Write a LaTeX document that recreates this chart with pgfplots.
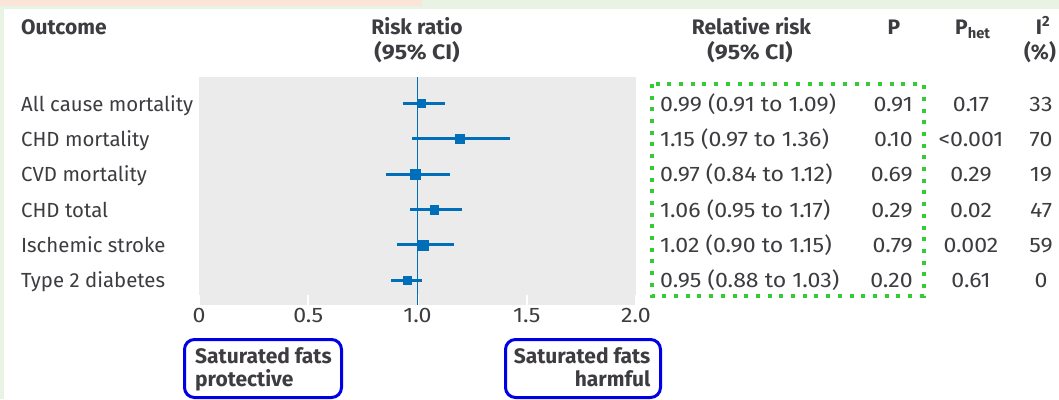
\documentclass[border=0pt]{standalone}
\usepackage{fontspec}
\setmainfont{Fira Sans}
\newfontfamily\numfont[FakeStretch=1.1]{Fira Sans}
\usepackage{pgfplots}
\pgfplotsset{compat=1.18}
\definecolor{bmjblue}{RGB}{0,110,184}
\definecolor{tgray}{RGB}{62,60,64}
\definecolor{panel}{RGB}{235,235,235}
\definecolor{peach}{RGB}{251,228,216}
\definecolor{pgreen}{RGB}{233,243,227}
\definecolor{dotgreen}{RGB}{51,204,51}
\definecolor{boxblue}{RGB}{0,0,230}
\newcommand\fs{\fontsize{21}{25}\selectfont}
\newcommand\fsl{\fontsize{20.4}{25}\selectfont}
\begin{document}
\begin{tikzpicture}[x=1pt,y=1pt]
\useasboundingbox (0,0) rectangle (1059,399);
% background frame
\fill[pgreen] (0,0) rectangle (1059,399);
\fill[peach] (0,{399-6}) rectangle (422,399);
\fill[white] (4,0) rectangle (1059,{399-9});
\begin{axis}[
  at={(199pt,94pt)}, anchor=south west,
  scale only axis, width=437pt, height=228pt,
  xmin=0, xmax=2, ymin=0.25, ymax=6.7, y dir=reverse,
  axis background/.style={fill=panel},
  axis line style={draw=none},
  xtick={0,0.5,1,1.5,2},
  xticklabels={0,0.5,1.0,1.5,2.0},
  ytick=\empty,
  xtick pos=left,
  tick align=inside,
  major tick length=10pt,
  xtick style={white, line width=2pt},
  xticklabel style={font=\fs\numfont, text=tgray},
  clip=false,
]
\addplot[bmjblue, line width=1.8pt] coordinates {(1,0.25) (1,6.7)};
\pgfplotsset{fp/.style={only marks, mark=square*, bmjblue,
  mark options={draw=none, fill=bmjblue},
  error bars/.cd, x dir=both, x explicit,
  error bar style={line width=3pt, bmjblue}, error mark=none}}
\addplot[mark size=4.0pt, fp] coordinates {(1.019,1) += (0.107,0) -= (0.087,0)};
\addplot[mark size=4.2pt, fp] coordinates {(1.194,2) += (0.229,0) -= (0.219,0)};
\addplot[mark size=4.9pt, fp] coordinates {(0.988,3) += (0.161,0) -= (0.134,0)};
\addplot[mark size=4.2pt, fp] coordinates {(1.076,4) += (0.126,0) -= (0.110,0)};
\addplot[mark size=5.2pt, fp] coordinates {(1.027,5) += (0.141,0) -= (0.122,0)};
\addplot[mark size=4.1pt, fp] coordinates {(0.952,6) += (0.069,0) -= (0.075,0)};
\end{axis}
% headers
\begin{scope}[every node/.style={font=\fs\bfseries, text=tgray, inner sep=0pt}]
\node[anchor=base west] at (21,{399-34.5}) {Outcome};
\node[anchor=base] at (417,{399-34.5}) {Risk ratio};
\node[anchor=base] at (417,{399-59.5}) {\numfont\bfseries (95\% CI)};
\node[anchor=base] at (751.5,{399-34.5}) {Relative risk};
\node[anchor=base] at (750,{399-59.5}) {\numfont\bfseries (95\% CI)};
\node[anchor=base] at (894,{399-34.5}) {P};
\node[anchor=base west] at (955,{399-34.5}) {P\textsubscript{het}};
\node[anchor=base] at (1043,{399-34.5}) {I\textsuperscript{2}};
\node[anchor=base] at (1040,{399-59.5}) {(\%)};
\end{scope}
% rows
\begin{scope}[every node/.style={font=\fs, text=tgray, inner sep=0pt}]
\foreach \lab/\rr/\p/\ph/\ii [count=\i from 0] in {
  All cause mortality/0.99 (0.91 to 1.09)/0.91/0.17/33,
  CHD mortality/1.15 (0.97 to 1.36)/0.10/<0.001/70,
  CVD mortality/0.97 (0.84 to 1.12)/0.69/0.29/19,
  CHD total/1.06 (0.95 to 1.17)/0.29/0.02/47,
  Ischemic stroke/1.02 (0.90 to 1.15)/0.79/0.002/59,
  Type 2 diabetes/0.95 (0.88 to 1.03)/0.20/0.61/0}{
  \pgfmathsetmacro\yy{399-111.5-35.2*\i}
  \node[anchor=base west, font=\fsl] at (21,\yy) {\lab};
  \node[anchor=base west, font=\fs\numfont] at (660,\yy) {\rr};
  \node[anchor=base east, font=\fs\numfont] at (913,\yy) {\p};
  \node[anchor=base, font=\fs\numfont] at (971,\yy) {\ph};
  \node[anchor=base, font=\fs\numfont] at (1041,\yy) {\ii};
}
\end{scope}
% green dotted frame
\draw[dotgreen, line width=4pt, dash pattern=on 4pt off 7.7pt] (652,{399-84}) rectangle (923.5,{399-296});
% blue boxes
\draw[boxblue, line width=3pt, rounded corners=10pt] (184.5,{399-339.5}) rectangle (341.5,{399-397.5});
\draw[boxblue, line width=3pt, rounded corners=10pt] (505.5,{399-339.5}) rectangle (660.5,{399-397.5});
\begin{scope}[every node/.style={font=\fs\bfseries, text=tgray, inner sep=0pt}]
\node[anchor=base west] at (195,{399-363}) {Saturated fats};
\node[anchor=base west] at (195,{399-386}) {protective};
\node[anchor=base east] at (650.5,{399-363}) {Saturated fats};
\node[anchor=base east] at (650.5,{399-386}) {harmful};
\end{scope}
\end{tikzpicture}
\end{document}
